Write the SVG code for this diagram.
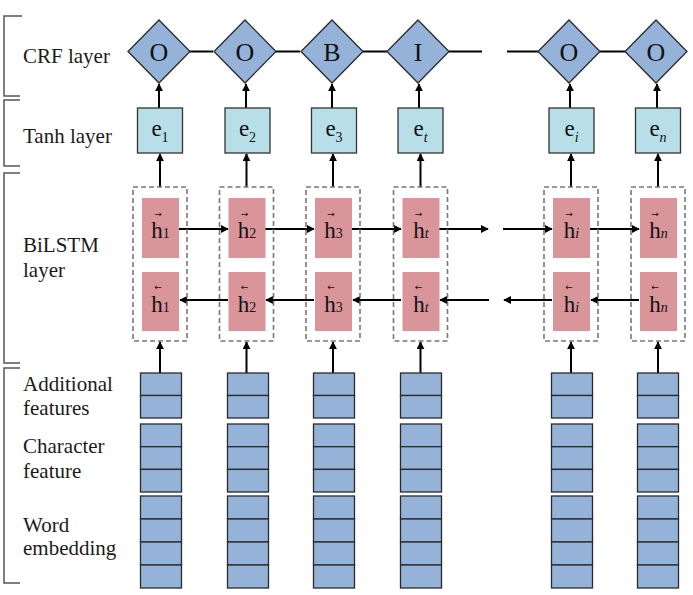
<svg xmlns="http://www.w3.org/2000/svg" width="693" height="595" viewBox="0 0 693 595">
<defs>
<marker id="ah" viewBox="0 0 10 10" refX="9" refY="5" markerWidth="8" markerHeight="8" markerUnits="userSpaceOnUse" orient="auto"><path d="M0,0 L10,5 L0,10 z" fill="#000"/></marker>
<style>
text{font-family:'Liberation Serif','DejaVu Serif',serif}
.lbl{font-size:21px;fill:#1a1a1a}
.sym{font-size:23px;fill:#111}
.big{font-size:26px}
.sub{font-size:14px}
.acc{font-family:'DejaVu Sans',sans-serif;font-size:9px;fill:#111}
.br{fill:none;stroke:#555;stroke-width:1.5}
.dia{fill:#95b3d8;stroke:#2a2a2a;stroke-width:1.3}
.tanh{fill:#b8dfe8;stroke:#333;stroke-width:1.3}
.dash{fill:none;stroke:#777;stroke-width:1.6;stroke-dasharray:5,3}
.red{fill:#d9959a}
.cell{fill:#95b3d8;stroke:#2a2a2a;stroke-width:1.3}
.ln{stroke:#000;stroke-width:2;fill:none}
.arr{stroke:#000;stroke-width:2;fill:none;marker-end:url(#ah)}
</style>
</defs>
<rect width="693" height="595" fill="#fff"/>

<g id="labels">
<path class="br" d="M22,16 H4 V96 H20"/>
<path class="br" d="M20,100 H4 V166 H20"/>
<path class="br" d="M20,173 H4 V363 H20"/>
<path class="br" d="M20,368 H4 V583 H20"/>
<text class="lbl" x="23" y="63">CRF layer</text>
<text class="lbl" x="23" y="143">Tanh layer</text>
<text class="lbl" x="23" y="252">BiLSTM</text>
<text class="lbl" x="23" y="277">layer</text>
<text class="lbl" x="23" y="391">Additional</text>
<text class="lbl" x="23" y="415">features</text>
<text class="lbl" x="23" y="453">Character</text>
<text class="lbl" x="23" y="478">feature</text>
<text class="lbl" x="23" y="532">Word</text>
<text class="lbl" x="23" y="555">embedding</text>
</g>

<g id="connectors">
<line class="ln" x1="189" y1="51.5" x2="213" y2="51.5"/>
<line class="ln" x1="276" y1="51.5" x2="300" y2="51.5"/>
<line class="ln" x1="363" y1="51.5" x2="387" y2="51.5"/>
<line class="ln" x1="449" y1="51.5" x2="482" y2="51.5"/>
<line class="ln" x1="507" y1="51.5" x2="538" y2="51.5"/>
<line class="ln" x1="600" y1="51.5" x2="625" y2="51.5"/>
<line class="arr" x1="159" y1="108" x2="159" y2="84"/>
<line class="arr" x1="246" y1="108" x2="246" y2="84"/>
<line class="arr" x1="332" y1="108" x2="332" y2="84"/>
<line class="arr" x1="419" y1="108" x2="419" y2="84"/>
<line class="arr" x1="570" y1="108" x2="570" y2="84"/>
<line class="arr" x1="657" y1="108" x2="657" y2="84"/>
<line class="arr" x1="160" y1="187" x2="160" y2="154"/>
<line class="arr" x1="246.5" y1="187" x2="246.5" y2="154"/>
<line class="arr" x1="333" y1="187" x2="333" y2="154"/>
<line class="arr" x1="420.5" y1="187" x2="420.5" y2="154"/>
<line class="arr" x1="571" y1="187" x2="571" y2="154"/>
<line class="arr" x1="658" y1="187" x2="658" y2="154"/>
<line class="arr" x1="160" y1="373" x2="160" y2="342"/>
<line class="arr" x1="246.5" y1="373" x2="246.5" y2="342"/>
<line class="arr" x1="333" y1="373" x2="333" y2="342"/>
<line class="arr" x1="420.5" y1="373" x2="420.5" y2="342"/>
<line class="arr" x1="571" y1="373" x2="571" y2="342"/>
<line class="arr" x1="658" y1="373" x2="658" y2="342"/>
<line class="arr" x1="179" y1="229" x2="228" y2="229"/>
<line class="arr" x1="265" y1="229" x2="314" y2="229"/>
<line class="arr" x1="352" y1="229" x2="401" y2="229"/>
<line class="arr" x1="439" y1="229" x2="488" y2="229"/>
<line class="arr" x1="503" y1="229" x2="552" y2="229"/>
<line class="arr" x1="590" y1="229" x2="639" y2="229"/>
<line class="arr" x1="228" y1="300" x2="180" y2="300"/>
<line class="arr" x1="314" y1="300" x2="266" y2="300"/>
<line class="arr" x1="401" y1="300" x2="353" y2="300"/>
<line class="arr" x1="489" y1="300" x2="440" y2="300"/>
<line class="arr" x1="552" y1="300" x2="504" y2="300"/>
<line class="arr" x1="639" y1="300" x2="591" y2="300"/>
</g>

<g id="crf-1"><path class="dia" d="M159,20 L190,51.5 L159,83 L128,51.5 Z"/><text class="sym big" x="159" y="61" text-anchor="middle">O</text></g>
<g id="crf-2"><path class="dia" d="M245,20 L276,51.5 L245,83 L214,51.5 Z"/><text class="sym big" x="245" y="61" text-anchor="middle">O</text></g>
<g id="crf-3"><path class="dia" d="M332,20 L363,51.5 L332,83 L301,51.5 Z"/><text class="sym big" x="332" y="61" text-anchor="middle">B</text></g>
<g id="crf-t"><path class="dia" d="M418,20 L449,51.5 L418,83 L387,51.5 Z"/><text class="sym big" x="418" y="61" text-anchor="middle">I</text></g>
<g id="crf-i"><path class="dia" d="M569,20 L600,51.5 L569,83 L538,51.5 Z"/><text class="sym big" x="569" y="61" text-anchor="middle">O</text></g>
<g id="crf-n"><path class="dia" d="M656,20 L687,51.5 L656,83 L625,51.5 Z"/><text class="sym big" x="656" y="61" text-anchor="middle">O</text></g>

<g id="tanh-1"><rect class="tanh" x="137.5" y="108" width="45" height="45"/><text class="sym" x="160" y="136" text-anchor="middle">e<tspan class="sub" dy="6">1</tspan></text></g>
<g id="tanh-2"><rect class="tanh" x="225" y="108" width="45" height="45"/><text class="sym" x="247.5" y="136" text-anchor="middle">e<tspan class="sub" dy="6">2</tspan></text></g>
<g id="tanh-3"><rect class="tanh" x="311.5" y="108" width="45" height="45"/><text class="sym" x="334" y="136" text-anchor="middle">e<tspan class="sub" dy="6">3</tspan></text></g>
<g id="tanh-t"><rect class="tanh" x="398" y="108" width="45" height="45"/><text class="sym" x="420.5" y="136" text-anchor="middle">e<tspan class="sub" dy="6" font-style="italic">t</tspan></text></g>
<g id="tanh-i"><rect class="tanh" x="549" y="108" width="45" height="45"/><text class="sym" x="571.5" y="136" text-anchor="middle">e<tspan class="sub" dy="6" font-style="italic">i</tspan></text></g>
<g id="tanh-n"><rect class="tanh" x="635.5" y="108" width="45" height="45"/><text class="sym" x="658" y="136" text-anchor="middle">e<tspan class="sub" dy="6" font-style="italic">n</tspan></text></g>

<g id="bilstm-1">
<rect class="dash" x="133" y="187" width="54" height="154"/>
<rect class="red" x="142" y="198" width="37" height="60"/><rect class="red" x="142" y="272" width="37" height="59"/>
<text class="acc" x="158" y="217" text-anchor="middle">→</text><text class="sym" x="160.5" y="238" text-anchor="middle">h<tspan class="sub">1</tspan></text>
<text class="acc" x="158" y="290" text-anchor="middle">←</text><text class="sym" x="160.5" y="312" text-anchor="middle">h<tspan class="sub">1</tspan></text>
</g>
<g id="bilstm-2">
<rect class="dash" x="219.5" y="187" width="54" height="154"/>
<rect class="red" x="228.5" y="198" width="37" height="60"/><rect class="red" x="228.5" y="272" width="37" height="59"/>
<text class="acc" x="244.5" y="217" text-anchor="middle">→</text><text class="sym" x="247" y="238" text-anchor="middle">h<tspan class="sub">2</tspan></text>
<text class="acc" x="244.5" y="290" text-anchor="middle">←</text><text class="sym" x="247" y="312" text-anchor="middle">h<tspan class="sub">2</tspan></text>
</g>
<g id="bilstm-3">
<rect class="dash" x="306" y="187" width="54" height="154"/>
<rect class="red" x="315" y="198" width="37" height="60"/><rect class="red" x="315" y="272" width="37" height="59"/>
<text class="acc" x="331" y="217" text-anchor="middle">→</text><text class="sym" x="333.5" y="238" text-anchor="middle">h<tspan class="sub">3</tspan></text>
<text class="acc" x="331" y="290" text-anchor="middle">←</text><text class="sym" x="333.5" y="312" text-anchor="middle">h<tspan class="sub">3</tspan></text>
</g>
<g id="bilstm-t">
<rect class="dash" x="393.5" y="187" width="54" height="154"/>
<rect class="red" x="402.5" y="198" width="37" height="60"/><rect class="red" x="402.5" y="272" width="37" height="59"/>
<text class="acc" x="418.5" y="217" text-anchor="middle">→</text><text class="sym" x="421" y="238" text-anchor="middle">h<tspan class="sub" font-style="italic">t</tspan></text>
<text class="acc" x="418.5" y="290" text-anchor="middle">←</text><text class="sym" x="421" y="312" text-anchor="middle">h<tspan class="sub" font-style="italic">t</tspan></text>
</g>
<g id="bilstm-i">
<rect class="dash" x="544" y="187" width="54" height="154"/>
<rect class="red" x="553" y="198" width="37" height="60"/><rect class="red" x="553" y="272" width="37" height="59"/>
<text class="acc" x="569" y="217" text-anchor="middle">→</text><text class="sym" x="571.5" y="238" text-anchor="middle">h<tspan class="sub" font-style="italic">i</tspan></text>
<text class="acc" x="569" y="290" text-anchor="middle">←</text><text class="sym" x="571.5" y="312" text-anchor="middle">h<tspan class="sub" font-style="italic">i</tspan></text>
</g>
<g id="bilstm-n">
<rect class="dash" x="631" y="187" width="54" height="154"/>
<rect class="red" x="640" y="198" width="37" height="60"/><rect class="red" x="640" y="272" width="37" height="59"/>
<text class="acc" x="655" y="217" text-anchor="middle">→</text><text class="sym" x="658.5" y="238" text-anchor="middle">h<tspan class="sub" font-style="italic">n</tspan></text>
<text class="acc" x="655" y="290" text-anchor="middle">←</text><text class="sym" x="658.5" y="312" text-anchor="middle">h<tspan class="sub" font-style="italic">n</tspan></text>
</g>

<defs>
<g id="stack">
<rect class="cell" x="0" y="373" width="41" height="22.5"/><rect class="cell" x="0" y="395.5" width="41" height="22.5"/>
<rect class="cell" x="0" y="424" width="41" height="22.7"/><rect class="cell" x="0" y="446.7" width="41" height="22.7"/><rect class="cell" x="0" y="469.4" width="41" height="22.6"/>
<rect class="cell" x="0" y="496" width="41" height="23"/><rect class="cell" x="0" y="519" width="41" height="23"/><rect class="cell" x="0" y="542" width="41" height="23"/><rect class="cell" x="0" y="565" width="41" height="23"/>
</g>
</defs>
<g id="input-1"><use href="#stack" x="140.5"/></g>
<g id="input-2"><use href="#stack" x="227.5"/></g>
<g id="input-3"><use href="#stack" x="313.5"/></g>
<g id="input-t"><use href="#stack" x="400.5"/></g>
<g id="input-i"><use href="#stack" x="551.5"/></g>
<g id="input-n"><use href="#stack" x="637.5"/></g>
</svg>
